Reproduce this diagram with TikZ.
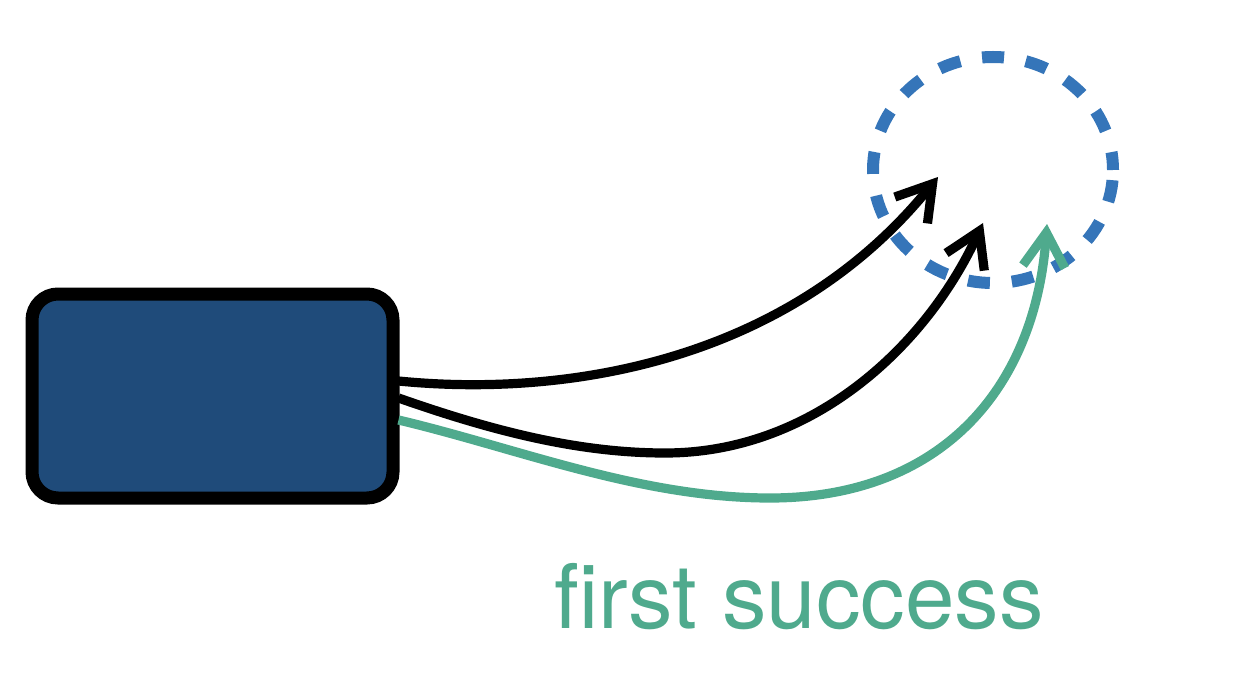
\documentclass[tikz,border=0pt]{standalone}
\usepackage{fontspec}
\setmainfont{TeX Gyre Heros}
\usetikzlibrary{arrows.meta,shapes.geometric,calc}
\definecolor{boxblue}{HTML}{1F4B7A}
\definecolor{dashblue}{HTML}{3575B9}
\definecolor{succgreen}{HTML}{4FAA8D}
\tikzset{
  startbox/.style={draw=black, fill=boxblue, line width=6.5pt, rounded corners=13pt,
    minimum width=180.5pt, minimum height=102pt, inner sep=0pt},
  goal/.style={ellipse, draw=dashblue, line width=6pt, dash pattern=on 11pt off 11pt, dash phase=2pt,
    minimum width=120pt, minimum height=113pt, inner sep=0pt},
  conn/.style={line width=4.6pt, -{Straight Barb[length=17pt,width=21pt]}},
  lbl/.style={font=\fontsize{44.5}{52}\selectfont, text=succgreen, anchor=base, inner sep=0pt}
}
\begin{document}
\begin{tikzpicture}[x=0.5pt,y=-0.5pt]
\useasboundingbox (0,0) rectangle (1240,700);
\node[startbox] (box) at (212.5,396) {};
\node[goal] (goal) at (993,170) {};
\coordinate (t1) at (938,177);
\coordinate (t2) at (983,223);
\coordinate (t3) at (1047,224);
\coordinate (b2) at (665,453);
\coordinate (b3) at (770,498);
\draw[conn, black] ($(box.east)+(-1,-15)$) .. controls (570,398) and (790,360) .. (t1);
\draw[conn, black] ($(box.east)+(-1,2)$) .. controls (487,429) and (575,453) .. (b2)
   .. controls (815,453) and (928,343) .. (t2);
\draw[conn, succgreen] ($(box.east)+(-1,24)$) .. controls (517,448) and (640,498) .. (b3)
   .. controls (940,498) and (1035,390) .. (t3);
\node[lbl] (label) at (799,628) {first success};
\end{tikzpicture}
\end{document}
